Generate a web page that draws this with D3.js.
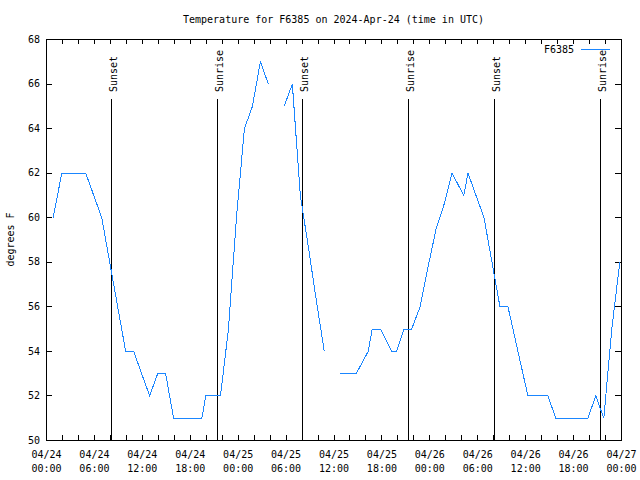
<!DOCTYPE html>
<html>
<head>
<meta charset="utf-8">
<script src="https://cdn.jsdelivr.net/npm/d3@7"></script>
<style>
body { margin: 0; background: #fff; }
svg text { font-family: "DejaVu Sans Mono", monospace; font-size: 10px; fill: #000; }
</style>
</head>
<body>
<div id="chart"></div>
<script>
// station readings (UTC), null = missing reading -> gap in line
var times = [
	"2024-04-24 00:50", "2024-04-24 01:55", "2024-04-24 02:55", "2024-04-24 03:55",
	"2024-04-24 04:55", "2024-04-24 05:55", "2024-04-24 06:55", "2024-04-24 07:55",
	"2024-04-24 08:55", "2024-04-24 09:55", "2024-04-24 10:55", "2024-04-24 11:55",
	"2024-04-24 12:55", "2024-04-24 13:55", "2024-04-24 14:55", "2024-04-24 15:55",
	"2024-04-24 16:55", "2024-04-24 17:55", "2024-04-24 18:55", "2024-04-24 19:27",
	"2024-04-24 19:57", "2024-04-24 20:55", "2024-04-24 21:47", "2024-04-24 22:47",
	"2024-04-24 23:47", "2024-04-25 00:47", "2024-04-25 01:47", "2024-04-25 02:47",
	"2024-04-25 03:47", "2024-04-25 04:47", "2024-04-25 05:45", "2024-04-25 06:47",
	"2024-04-25 07:47", "2024-04-25 08:47", "2024-04-25 09:47", "2024-04-25 10:47",
	"2024-04-25 11:47", "2024-04-25 12:45", "2024-04-25 13:47", "2024-04-25 14:47",
	"2024-04-25 16:17", "2024-04-25 16:47", "2024-04-25 17:50", "2024-04-25 19:12",
	"2024-04-25 19:50", "2024-04-25 20:45", "2024-04-25 21:43", "2024-04-25 22:47",
	"2024-04-25 23:47", "2024-04-26 00:47", "2024-04-26 01:47", "2024-04-26 02:47",
	"2024-04-26 04:15", "2024-04-26 04:47", "2024-04-26 05:47", "2024-04-26 06:47",
	"2024-04-26 07:47", "2024-04-26 08:47", "2024-04-26 09:47", "2024-04-26 11:02",
	"2024-04-26 12:17", "2024-04-26 13:47", "2024-04-26 14:47", "2024-04-26 15:47",
	"2024-04-26 16:47", "2024-04-26 17:47", "2024-04-26 18:47", "2024-04-26 19:47",
	"2024-04-26 20:47", "2024-04-26 21:47", "2024-04-26 22:47", "2024-04-26 23:47"
];
var temps = [
	60, 62, 62, 62,
	62, 61, 60, 58,
	56, 54, 54, 53,
	52, 53, 53, 51,
	51, 51, 51, 51,
	52, 52, 52, 55,
	60, 64, 65, 67,
	66, null, 65, 66,
	61, 58.7, 56.3, 54,
	null, 53, 53, 53,
	54, 55, 55, 54,
	54, 55, 55, 56,
	57.8, 59.5, 60.6, 62,
	61, 62, 61, 60,
	58, 56, 56, 54,
	52, 52, 52, 51,
	51, 51, 51, 51,
	52, 51, 55, 58
];

// sunrise / sunset markers
var eventTimes = ["2024-04-24 08:08", "2024-04-24 21:25", "2024-04-25 08:03",
	"2024-04-25 21:20", "2024-04-26 08:06", "2024-04-26 21:22"];
var eventLabels = ["Sunset", "Sunrise", "Sunset", "Sunrise", "Sunset", "Sunrise"];

var yTicks = [50, 52, 54, 56, 58, 60, 62, 64, 66, 68];
var xDomain = ["2024-04-24 00:00", "2024-04-27 00:00"];
var seriesName = "F6385";
var titleText = "Temperature for F6385 on 2024-Apr-24 (time in UTC)";
var yLabel = "degrees F";

var parseTime = d3.utcParse("%Y-%m-%d %H:%M");
var formatDay = d3.utcFormat("%m/%d");
var formatHour = d3.utcFormat("%H:%M");

var lineColor = "#1a86ff";

// size
var margin = { left: 46, right: 19, top: 39, bottom: 40 };
var width = 640 - margin.left - margin.right;   // 575
var height = 480 - margin.top - margin.bottom;  // 401

var svg = d3.select("#chart")
	.append("svg")
	.attr("width", 640)
	.attr("height", 480);

var g = svg.append("g")
	.attr("transform", "translate(" + margin.left + "," + margin.top + ")");

var data = times.map(function(d, i){
	return { date: parseTime(d), temp: temps[i] };
});

// x and y
var x = d3.scaleUtc()
	.domain(xDomain.map(parseTime))
	.range([0, width]);

var y = d3.scaleLinear()
	.domain([50, 68])
	.range([height, 0]);

// title
svg.append("text")
	.attr("x", margin.left + width / 2)
	.attr("y", 23)
	.attr("text-anchor", "middle")
	.text(titleText);

// y label
svg.append("text")
	.attr("transform", "translate(14," + (margin.top + height / 2) + ") rotate(-90)")
	.attr("text-anchor", "middle")
	.text(yLabel);

// axes (ticks point inward, like gnuplot)
var twoHours = d3.utcHour.every(2);

g.append("g")
	.attr("class", "x-axis")
	.attr("transform", "translate(0," + height + ")")
	.call(d3.axisBottom(x).ticks(twoHours).tickSize(-5).tickFormat(""));

g.append("g")
	.attr("class", "x-axis-top")
	.call(d3.axisTop(x).ticks(twoHours).tickSize(-5).tickFormat(""));

g.append("g")
	.attr("class", "y-axis")
	.call(d3.axisLeft(y).tickValues(yTicks).tickSize(-6).tickPadding(6));

g.append("g")
	.attr("class", "y-axis-right")
	.attr("transform", "translate(" + width + ",0)")
	.call(d3.axisRight(y).tickValues(yTicks).tickSize(-6).tickFormat(""));

g.selectAll(".domain").remove();
g.selectAll(".tick line")
	.attr("stroke", "#000")
	.attr("shape-rendering", "crispEdges");
g.selectAll(".y-axis text")
	.attr("font-family", null)
	.attr("font-size", null)
	.attr("fill", "#000");

// two-line x labels every 6 hours
var xLabels = g.append("g").attr("class", "x-labels");
x.ticks(d3.utcHour.every(6)).forEach(function(d){
	var t = xLabels.append("text")
		.attr("text-anchor", "middle")
		.attr("x", x(d) + 0.5);
	t.append("tspan").attr("x", x(d) + 0.5).attr("y", height + 18).text(formatDay(d));
	t.append("tspan").attr("x", x(d) + 0.5).attr("y", height + 32).text(formatHour(d));
});

// sunrise / sunset lines
eventTimes.forEach(function(d, i){
	var ex = Math.round(x(parseTime(d))) + 0.5;
	g.append("line")
		.attr("x1", ex).attr("x2", ex)
		.attr("y1", 60).attr("y2", height)
		.attr("stroke", "#000")
		.attr("shape-rendering", "crispEdges");
	g.append("text")
		.attr("transform", "translate(" + (ex + 5) + ",53) rotate(-90)")
		.text(eventLabels[i]);
});

// temperature line
var line = d3.line()
	.defined(function(d){ return d.temp != null; })
	.x(function(d){ return x(d.date) + 0.5; })
	.y(function(d){ return y(d.temp) + 0.5; });

g.append("path")
	.datum(data)
	.attr("fill", "none")
	.attr("stroke", lineColor)
	.attr("stroke-width", 1)
	.attr("shape-rendering", "crispEdges")
	.attr("d", line);

// border
g.append("rect")
	.attr("x", 0.5).attr("y", 0.5)
	.attr("width", width).attr("height", height)
	.attr("fill", "none")
	.attr("stroke", "#000")
	.attr("shape-rendering", "crispEdges");

// legend
g.append("text")
	.attr("x", 528)
	.attr("y", 14)
	.attr("text-anchor", "end")
	.text(seriesName);
g.append("line")
	.attr("x1", 535).attr("x2", 564)
	.attr("y1", 10.5).attr("y2", 10.5)
	.attr("stroke", lineColor)
	.attr("shape-rendering", "crispEdges");
</script>
</body>
</html>
